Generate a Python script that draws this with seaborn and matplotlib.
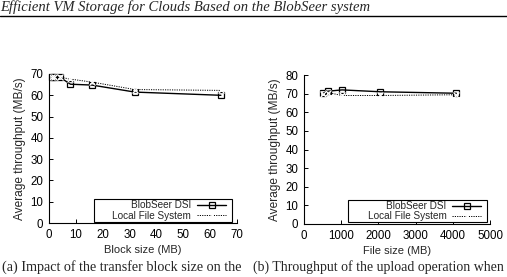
import matplotlib
matplotlib.use("Agg")
import matplotlib.pyplot as plt
import seaborn as sns
import pandas as pd

# data
block_sizes = [1, 2, 4, 8, 16, 32, 64]
block_blobseer = [68.5, 68.5, 68.5, 65.2, 64.8, 61.5, 60.0]
block_local = [68.5, 68.5, 68.5, 67.6, 66.2, 62.7, 62.3]

file_sizes = [512, 640, 1024, 2048, 4096]
file_blobseer = [70.2, 71.3, 72.0, 71.0, 70.2]
file_local = [70.0, 70.6, 69.0, 69.0, 69.4]

series_names = ["BlobSeer DSI", "Local File System"]

header = "Efficient VM Storage for Clouds Based on the BlobSeer system"
caption_a = "(a) Impact of the transfer block size on the"
caption_b = "(b) Throughput of the upload operation when"

sns.set_style("white")
plt.rcParams['font.family'] = ['Liberation Sans', 'DejaVu Sans']

W, H = 507, 277
fig = plt.figure(figsize=(W / 100, H / 100), dpi=100)


def px_axes(x0, y0, x1, y1):
    return fig.add_axes([x0 / W, 1 - y1 / H, (x1 - x0) / W, (y1 - y0) / H])


def draw_panel(ax, xs, s1, s2, xlim, ylim, xticks, yticks, xlabel, box):
    d1 = pd.DataFrame({"x": xs, "y": s1})
    d2 = pd.DataFrame({"x": xs, "y": s2})
    sns.lineplot(data=d1, x="x", y="y", ax=ax, color="black", lw=1.0,
                 marker="s", markersize=4.5, markerfacecolor="none",
                 markeredgecolor="black", markeredgewidth=0.9, label=series_names[0],
                 clip_on=False)
    sns.lineplot(data=d2, x="x", y="y", ax=ax, color="black", lw=0.7,
                 linestyle=(0, (1.2, 1.2)), marker="x", markersize=3.8,
                 markeredgewidth=0.9, label=series_names[1], clip_on=False)
    ax.set_xlim(*xlim)
    ax.set_ylim(*ylim)
    ax.set_xticks(xticks)
    ax.set_yticks(yticks)
    ax.set_xlabel(xlabel, fontsize=8, labelpad=3)
    ax.set_ylabel("Average throughput (MB/s)", fontsize=8.6, labelpad=3)
    for s in ["top", "right"]:
        ax.spines[s].set_visible(False)
    for s in ["left", "bottom"]:
        ax.spines[s].set_color("black")
        ax.spines[s].set_linewidth(0.8)
    ax.tick_params(direction="in", length=3, width=0.7, labelsize=8.3,
                   colors="black", pad=4, left=True, bottom=True)
    # gnuplot-style key box
    bx0, by0, bx1, by1 = box
    ax.add_patch(plt.Rectangle((bx0, by0), bx1 - bx0, by1 - by0,
                               transform=ax.transAxes, fill=True, fc="white",
                               ec="black", lw=0.8, zorder=4, clip_on=False))
    leg = ax.legend(loc="center right", fontsize=7.2, markerfirst=False,
                    frameon=False, handlelength=2.9, borderpad=0.0,
                    labelspacing=0.02, handletextpad=0.6, borderaxespad=0.0,
                    bbox_to_anchor=(bx1 - 0.03, (by0 + by1) / 2))
    leg.set_zorder(5)
    for t in leg.get_texts():
        t.set_ha("right")


ax1 = px_axes(49, 74, 237, 223)
draw_panel(ax1, block_sizes, block_blobseer, block_local, (0, 70), (0, 70),
           range(0, 71, 10), range(0, 71, 10), "Block size (MB)",
           (0.239, 0.007, 0.973, 0.160))

ax2 = px_axes(304, 75, 490, 224)
draw_panel(ax2, file_sizes, file_blobseer, file_local, (0, 5000), (0, 80),
           range(0, 5001, 1000), range(0, 81, 10), "File size (MB)",
           (0.237, 0.013, 0.984, 0.160))

# page header and caption of the scan
fig.text(0, 1 - 11 / H, header, fontsize=10.5, family="Liberation Serif",
         style="italic", va="baseline", ha="left")
fig.add_artist(plt.Line2D([0, 1], [1 - 16 / H, 1 - 16 / H], color="black", lw=1.0))
fig.text(2 / W, 1 - 271 / H, caption_a, fontsize=10.2, family="Liberation Serif",
         va="baseline", ha="left")
fig.text(253 / W, 1 - 271 / H, caption_b, fontsize=10.0, family="Liberation Serif",
         va="baseline", ha="left")

fig.savefig("out.png", dpi=100)
